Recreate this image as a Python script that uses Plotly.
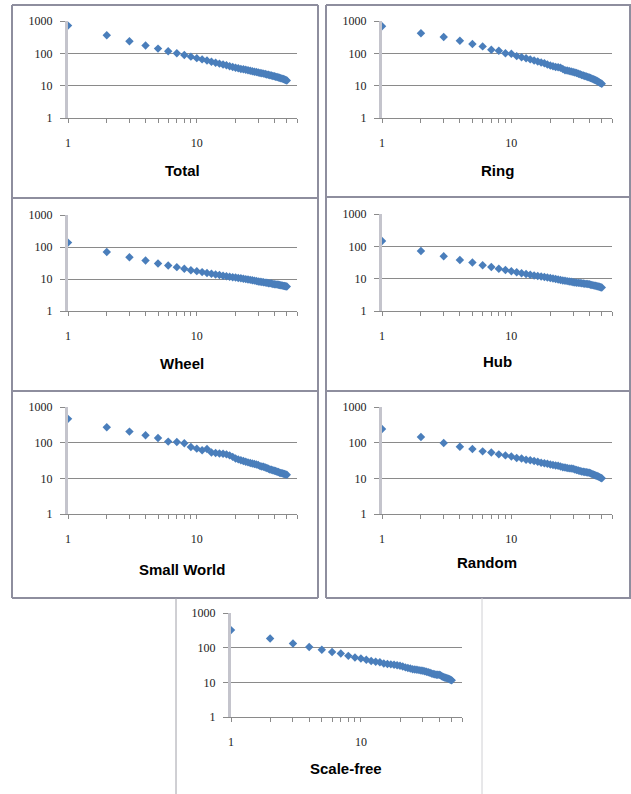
import plotly.graph_objects as go
import math

W, H = 631, 794

ranks = list(range(1, 51))

total = [720, 360, 235, 175, 140, 116, 100, 89, 79, 71, 65, 60, 55, 51, 48, 45, 42.5, 40, 38, 36,
         34.5, 33, 32, 31, 30, 29, 28, 27, 26.3, 25.5, 24.8, 24.2, 23.6, 23, 22.3, 21.7, 21.1, 20.6, 20, 19.5,
         19, 18.5, 18, 17.5, 17, 16.5, 16, 15.5, 15, 14.5]
ring = [690, 420, 318, 245, 193, 164, 129, 120, 100, 97, 82, 76, 70, 65, 60, 56, 52, 49, 45, 42,
        40, 38, 37, 36, 33, 30, 29.5, 28.5, 27.5, 26.5, 25.5, 24.5, 23.5, 22.5, 21.5, 20.5, 20, 19.3, 18.6, 18,
        17.2, 16.5, 15.8, 15.2, 14.6, 14, 13.3, 12.6, 12, 11.4]
wheel = [137, 70, 48, 37.7, 30.5, 26.5, 23.5, 20.8, 18.9, 17.6, 16.4, 15.4, 14.6, 13.9, 13.3, 12.7, 12.2, 11.8, 11.4, 11.1,
         10.8, 10.5, 10.2, 9.9, 9.6, 9.4, 9.1, 8.9, 8.6, 8.4, 8.2, 8.0, 7.9, 7.7, 7.6, 7.4, 7.3, 7.2, 7.0, 6.9,
         6.8, 6.7, 6.6, 6.5, 6.4, 6.3, 6.1, 6.0, 5.9, 5.8]
hub = [147, 72, 49, 38, 31.5, 26, 23, 20.4, 18.6, 17, 15.8, 14.8, 14, 13.3, 12.6, 12.1, 11.6, 11.2, 10.8, 10.5,
       10.1, 9.7, 9.4, 9.1, 8.8, 8.6, 8.4, 8.2, 8.0, 7.8, 7.65, 7.5, 7.4, 7.3, 7.2, 7.1, 7.0, 6.9, 6.8, 6.7,
       6.5, 6.4, 6.2, 6.1, 6.0, 5.8, 5.7, 5.6, 5.45, 5.3]
small_world = [465, 270, 204, 161, 135, 107, 105, 96, 76, 68, 61, 66, 53, 51, 50, 49, 47, 44, 40, 36,
               34, 32, 30.5, 29, 28, 27, 26, 25.3, 24.5, 23.6, 22, 21.5, 21, 20.2, 19.5, 18.6, 17.8, 17.3, 16.8, 16.3,
               16, 15.4, 15, 14.3, 14.2, 13.8, 13.5, 13.2, 12.9, 12.6]
random_net = [243, 145, 98, 77, 66, 57, 53, 47, 44, 41, 37, 36, 33, 32, 30.5, 29, 27.5, 26.5, 25.5, 24.5,
              23.5, 23, 22.5, 21.5, 20.5, 20, 19.5, 19, 18.8, 18.5, 17.8, 17.2, 16.5, 16, 15.6, 15.3, 15, 14.8, 14.5, 14.3,
              13.8, 13.3, 12.8, 12.4, 12, 11.6, 11.2, 10.8, 10.4, 10]
scale_free = [321, 184, 132, 104, 87, 75, 68, 58, 52, 49, 45, 41, 39, 38, 35, 34, 33, 32, 31, 30,
              28.5, 27, 26, 25, 24, 23.5, 23, 22.5, 22, 21.6, 21, 20.2, 19.5, 18.8, 18, 17.5, 17, 16.5, 16.5, 16.5,
              16, 15, 14.3, 13.8, 13.5, 13.2, 12.8, 12.3, 11.9, 11.4]

titles = ["Total", "Ring", "Wheel", "Hub", "Small World", "Random", "Scale-free"]
series = [total, ring, wheel, hub, small_world, random_net, scale_free]

x_tickvals = [1, 2, 3, 4, 5, 6, 7, 8, 9, 10, 20, 30, 40, 50, 60]
x_ticktext = ["1", "", "", "", "", "", "", "", "", "10", "", "", "", "", ""]
y_tickvals = [1, 10, 100, 1000]
y_ticktext = ["1", "10", "100", "1000"]

# plot-area pixel boxes (left, right, top, bottom) and title centres
boxes = [
    (68, 297, 21, 118),
    (382, 612, 21, 118),
    (68, 297, 215, 311),
    (382, 612, 214, 311),
    (68, 297, 407, 514),
    (382, 612, 407, 514),
    (231, 462, 613, 717),
]
title_pos = [(183, 170), (497, 171), (182, 363), (497, 361), (182, 569), (487, 562), (346, 768)]

def fx(px):
    return px / W

def fy(py):
    return 1 - py / H

fig = go.Figure()
layout = dict(width=W, height=H, margin=dict(l=0, r=0, t=0, b=0, pad=0, autoexpand=False),
              paper_bgcolor="white", plot_bgcolor="white", showlegend=False)

grid_col = "#8a8a8a"
tick_font = dict(family="Liberation Serif", size=12, color="#222222")

for i, (name, vals) in enumerate(zip(titles, series)):
    n = i + 1
    xa = "x" if n == 1 else f"x{n}"
    ya = "y" if n == 1 else f"y{n}"
    fig.add_trace(go.Scatter(x=ranks, y=vals, mode="markers", xaxis=xa, yaxis=ya, name=name,
                             marker=dict(symbol="diamond", size=6.5, color="#4A7EBB")))
    l, r, t, b = boxes[i]
    xkey = "xaxis" if n == 1 else f"xaxis{n}"
    ykey = "yaxis" if n == 1 else f"yaxis{n}"
    layout[xkey] = dict(type="log", range=[0, math.log10(60)], domain=[fx(l), fx(r)],
                        anchor=ya, tickvals=x_tickvals, ticktext=x_ticktext, automargin=False,
                        showgrid=False, zeroline=False, showline=True, linecolor=grid_col, linewidth=1,
                        ticks="outside", ticklen=4, tickcolor=grid_col, tickfont=tick_font,
                        ticklabelstandoff=10, fixedrange=True)
    layout[ykey] = dict(type="log", range=[0, 3], domain=[fy(b), fy(t)],
                        anchor=xa, tickvals=y_tickvals, ticktext=y_ticktext, automargin=False,
                        showgrid=True, gridcolor=grid_col, gridwidth=1, zeroline=False,
                        showline=True, linecolor="#c4c4cc", linewidth=3,
                        ticks="outside", ticklen=5, tickcolor=grid_col, tickfont=tick_font,
                        ticklabelstandoff=5, fixedrange=True)

annotations = []
for name, (cx, cy) in zip(titles, title_pos):
    annotations.append(dict(text=f"<b>{name}</b>", x=fx(cx), y=fy(cy), xref="paper", yref="paper",
                            showarrow=False, xanchor="center", yanchor="middle",
                            font=dict(family="Liberation Sans", size=15, color="#000000")))
layout["annotations"] = annotations

border = "#8e8e9e"
shapes = []
def hline(x0, x1, y, col=border, w=2):
    shapes.append(dict(type="line", xref="paper", yref="paper", x0=fx(x0), x1=fx(x1), y0=fy(y), y1=fy(y),
                       line=dict(color=col, width=w)))
def vline(x, y0, y1, col=border, w=2):
    shapes.append(dict(type="line", xref="paper", yref="paper", x0=fx(x), x1=fx(x), y0=fy(y0), y1=fy(y1),
                       line=dict(color=col, width=w)))

# table-like frames around the charts
for y in (5, 198, 391, 598):
    hline(12, 318, y)
for y in (5, 197, 391, 598):
    hline(326, 631, y)
vline(12, 5, 598)
vline(318, 5, 598)
vline(326, 5, 598)
vline(630, 5, 598)
vline(176, 598, 794, col="#a0a0a8", w=1)
vline(482, 598, 794, col="#d0d0d4", w=1)
layout["shapes"] = shapes

fig.update_layout(**layout)
fig.write_html("out.html", config={"displayModeBar": False},
               post_script="document.body.style.margin='0';document.body.style.padding='0';"
                           "document.body.style.overflow='hidden';")
